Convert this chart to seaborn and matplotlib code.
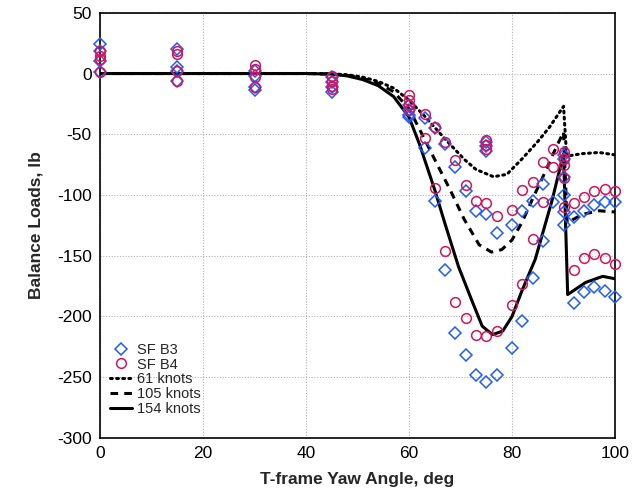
import matplotlib
matplotlib.use("Agg")
import matplotlib.pyplot as plt
import seaborn as sns
import pandas as pd

# ---- data ----
b3_x = [0, 0, 0, 0, 15, 15, 15, 15, 30, 30, 30, 30, 45, 45, 45, 45,
        60, 60, 60, 60, 63, 63, 65, 65, 67, 67, 69, 69, 71, 71, 73, 73,
        75, 75, 75, 75, 75, 77, 77, 80, 80, 82, 82, 84, 84, 86, 86, 88,
        90, 90, 90, 90, 90, 90, 92, 92, 94, 94, 96, 96, 98, 98, 100, 100]
b3_y = [24, 18.5, 10.5, 1.5, 20, 5, 2, -6, 2, -2, -11, -13.5, -3, -7, -11, -15,
        -26, -30, -34, -36, -37, -61.5, -45, -105, -58, -162, -77, -214, -97, -232, -113, -248,
        -56, -60, -64, -116, -254, -131, -248, -125, -226, -113, -204, -105, -168, -91, -138, -106,
        -67, -70, -85, -100, -114, -125, -118, -189, -113, -180, -108, -176, -106, -179, -106, -184]

b4_x = [0, 0, 0, 0, 15, 15, 15, 15, 30, 30, 30, 30, 45, 45, 45, 45,
        60, 60, 60, 60, 63, 63, 65, 65, 67, 67, 69, 69, 71, 71, 73, 73,
        75, 75, 75, 75, 75, 77, 77, 80, 80, 82, 82, 84, 84, 86, 86, 88, 88,
        90, 90, 90, 90, 90, 92, 92, 94, 94, 96, 96, 98, 98, 100, 100]
b4_y = [18.5, 14.5, 12, 1.5, 18.5, 16, 2, -6, 7, 3.5, -3, -11, -2, -6, -10, -13,
        -18, -22, -26, -30, -33.5, -53, -44, -94, -56, -146, -71, -188, -92, -201, -105, -215,
        -55, -59, -62, -107, -216, -117, -212, -112, -191, -96, -173, -89, -136, -73, -106, -62, -77,
        -65, -70, -75, -86, -110, -107, -162, -102, -152, -97, -149, -95, -152, -97, -157]

k61_x = [0, 40, 45, 48, 51, 54, 57, 60, 63, 67, 70.8, 73, 76.4, 79, 82, 85, 87.3, 90, 90.6, 93.6, 96.9, 100]
k61_y = [0, 0, -0.3, -1, -3, -6.5, -12, -22, -35, -54, -71, -79, -85, -83, -70, -56, -44, -27, -68, -66, -65, -67]

k105_x = [0, 40, 45, 48, 51, 54, 57, 60, 63, 65, 68, 70.7, 73.6, 76, 78, 80, 82, 84, 86, 88, 90, 90.7, 93.6, 96.9, 100]
k105_y = [0, 0, -0.4, -1.5, -4, -8, -15, -29, -54, -71, -96, -120, -141, -147, -145, -137, -122, -103, -85, -66, -48, -123, -116, -113, -114]

k154_x = [0, 40, 45, 48, 51, 54, 57, 60, 62, 65, 67, 69.6, 72.2, 74.2, 76.2, 78.2, 80, 82, 84.5, 87.8, 90, 90.8, 94.3, 97.6, 100]
k154_y = [0, 0, -0.5, -2, -5, -10, -19, -36, -58, -96, -124, -159, -187, -208, -215, -212, -200, -178, -153, -104, -66, -182, -172, -167, -169]

x_ticks = [0, 20, 40, 60, 80, 100]
y_ticks = [50, 0, -50, -100, -150, -200, -250, -300]

blue = "#1f5cff"
red = "#d4145a"

sns.set_theme(style="white")
plt.rcParams["font.family"] = ["Liberation Sans", "DejaVu Sans"]
plt.rcParams["axes.unicode_minus"] = False

fig = plt.figure(figsize=(6.38, 4.92), dpi=100)
ax = fig.add_axes([0.157, 0.110, 0.807, 0.864])

df3 = pd.DataFrame({"x": b3_x, "y": b3_y})
df4 = pd.DataFrame({"x": b4_x, "y": b4_y})

sns.lineplot(x=k61_x, y=k61_y, ax=ax, color="black", lw=2.2, sort=False, estimator=None,
             linestyle=(0, (0.6, 1.4)), dash_capstyle="round", label="61 knots")
sns.lineplot(x=k105_x, y=k105_y, ax=ax, color="black", lw=2.2, sort=False, estimator=None,
             linestyle=(0, (2.5, 2.0)), label="105 knots")
sns.lineplot(x=k154_x, y=k154_y, ax=ax, color="black", lw=2.2, sort=False, estimator=None,
             linestyle="-", label="154 knots")

ax.plot(df3["x"], df3["y"], linestyle="none", marker="D", ms=6, mfc="none",
        mec=blue, mew=1.1, label="SF B3", clip_on=False, zorder=3)
ax.plot(df4["x"], df4["y"], linestyle="none", marker="o", ms=7, mfc="none",
        mec=red, mew=1.1, label="SF B4", clip_on=False, zorder=3)

ax.set_xlim(0, 100)
ax.set_ylim(-300, 50)
ax.set_xticks(x_ticks)
ax.set_yticks(y_ticks)
ax.tick_params(axis="both", length=0, labelsize=12.5, colors="black", pad=6)
ax.grid(True, color="#b0b0b0", linestyle=(0, (1, 1.5)), linewidth=0.8)
for s in ax.spines.values():
    s.set_color("black")
    s.set_linewidth(1.2)

ax.set_xlabel("T-frame Yaw Angle, deg", fontsize=12.5, fontweight="bold", labelpad=8)
ax.set_ylabel("Balance Loads, lb", fontsize=12.5, fontweight="bold", labelpad=10)

h, l = ax.get_legend_handles_labels()
order = [l.index(n) for n in ["SF B3", "SF B4", "61 knots", "105 knots", "154 knots"]]
ax.legend([h[i] for i in order], [l[i] for i in order], loc="lower left",
          bbox_to_anchor=(0.0, 0.028), frameon=False, fontsize=10.5,
          handlelength=1.5, handletextpad=0.35, labelspacing=0.05, borderaxespad=0.3)

fig.savefig("out.png", dpi=100)
